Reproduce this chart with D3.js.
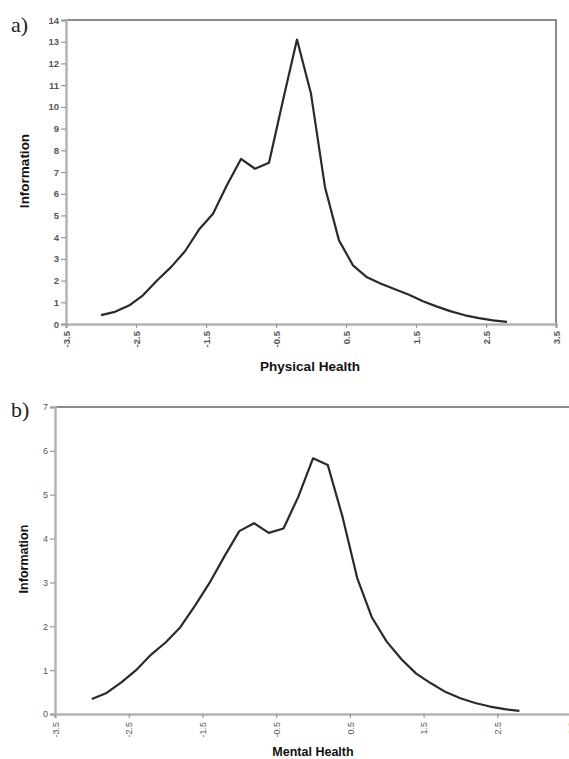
<!DOCTYPE html>
<html>
<head>
<meta charset="utf-8">
<script src="https://d3js.org/d3.v7.min.js"></script>
<style>
  body { margin: 0; background: #fff; }
  svg text { font-family: "Liberation Sans", Arial, sans-serif; }
</style>
</head>
<body>
<div id="chart"></div>
<script>
// a) physical health information curve
var thetaPhys = [-3.0, -2.8, -2.6, -2.4, -2.2, -2.0, -1.8, -1.6, -1.4, -1.2, -1.0, -0.8, -0.6, -0.4, -0.2,
                 0.0, 0.2, 0.4, 0.6, 0.8, 1.0, 1.2, 1.4, 1.6, 1.8, 2.0, 2.2, 2.4, 2.6, 2.8];
var infoPhys = [0.41, 0.56, 0.85, 1.32, 2.0, 2.62, 3.35, 4.35, 5.08, 6.4, 7.6, 7.15, 7.43, 10.3, 13.1,
                10.6, 6.3, 3.85, 2.7, 2.15, 1.85, 1.6, 1.35, 1.05, 0.8, 0.58, 0.4, 0.27, 0.17, 0.1];

// b) mental health information curve
var thetaMent = [-3.0, -2.8, -2.6, -2.4, -2.2, -2.0, -1.8, -1.6, -1.4, -1.2, -1.0, -0.8, -0.6, -0.4, -0.2,
                 0.0, 0.2, 0.4, 0.6, 0.8, 1.0, 1.2, 1.4, 1.6, 1.8, 2.0, 2.2, 2.4, 2.6, 2.8];
var infoMent = [0.34, 0.48, 0.72, 1.0, 1.35, 1.63, 1.98, 2.47, 3.0, 3.6, 4.17, 4.35, 4.13, 4.23, 4.95,
                5.83, 5.68, 4.5, 3.1, 2.2, 1.65, 1.25, 0.92, 0.7, 0.5, 0.36, 0.25, 0.17, 0.11, 0.07];

var xTicks = [-3.5, -2.5, -1.5, -0.5, 0.5, 1.5, 2.5, 3.5];
var yTicksPhys = [0, 1, 2, 3, 4, 5, 6, 7, 8, 9, 10, 11, 12, 13, 14];
var yTicksMent = [0, 1, 2, 3, 4, 5, 6, 7];

var svg = d3.select("#chart").append("svg")
    .attr("width", 569)
    .attr("height", 759);

function drawPanel(p) {
  var x = d3.scaleLinear().domain([-3.5, 3.5]).range([p.left, p.right]);
  var y = d3.scaleLinear().domain([0, p.ymax]).range([p.bottom, p.top]);
  var g = svg.append("g");

  // frame top and right
  g.append("line")
    .attr("x1", p.left).attr("x2", p.right + 1)
    .attr("y1", p.top).attr("y2", p.top)
    .style("stroke", "#8c8c8c").style("stroke-width", 2);
  g.append("line")
    .attr("x1", p.right).attr("x2", p.right)
    .attr("y1", p.top).attr("y2", p.bottom)
    .style("stroke", "#8c8c8c").style("stroke-width", 2);

  // y axis
  var ya = g.append("g")
    .attr("transform", "translate(" + p.left + ",0)")
    .call(d3.axisLeft(y).tickValues(p.yTicks).tickSize(5).tickPadding(2).tickFormat(d3.format("d")));
  ya.select(".domain").style("stroke", "#b4b4b4").style("stroke-width", 2.5);
  ya.selectAll(".tick line").style("stroke", "#999").style("stroke-width", 1.2);
  ya.selectAll(".tick text")
    .style("font-size", p.yFont + "px")
    .style("font-weight", p.yWeight)
    .style("fill", "#555");

  // x axis
  var xa = g.append("g")
    .attr("transform", "translate(0," + p.bottom + ")")
    .call(d3.axisBottom(x).tickValues(xTicks).tickSize(4).tickFormat(function(d) { return d.toFixed(1); }));
  xa.select(".domain").style("stroke", "#b4b4b4").style("stroke-width", 2.5);
  xa.selectAll(".tick line").style("stroke", "#999").style("stroke-width", 1.2);
  xa.selectAll(".tick text")
    .attr("transform", "rotate(-90)")
    .attr("x", -p.xLabGap)
    .attr("y", 0)
    .attr("dy", "0.35em")
    .style("text-anchor", "end")
    .style("font-size", p.yFont + "px")
    .style("font-weight", p.yWeight)
    .style("fill", "#555");

  // curve
  var pts = p.theta.map(function(t, i) { return [t, p.info[i]]; });
  g.append("path")
    .datum(pts)
    .attr("d", d3.line().x(function(d) { return x(d[0]); }).y(function(d) { return y(d[1]); }))
    .style("fill", "none")
    .style("stroke", "#2a2a2a")
    .style("stroke-width", 2.2)
    .style("stroke-linejoin", "round");

  // axis titles
  g.append("text")
    .attr("x", p.xTitleX).attr("y", p.xTitleY)
    .style("text-anchor", "middle")
    .style("font-size", p.titleFont + "px")
    .style("font-weight", "bold")
    .style("fill", "#111")
    .text(p.xTitle);
  g.append("text")
    .attr("transform", "translate(" + p.yTitleX + "," + p.yTitleY + ") rotate(-90)")
    .style("text-anchor", "middle")
    .style("font-size", p.titleFont + "px")
    .style("font-weight", "bold")
    .style("fill", "#111")
    .text("Information");

  // panel letter
  g.append("text")
    .attr("x", 11).attr("y", p.letterY)
    .style("font-family", "'Liberation Serif', 'Times New Roman', serif")
    .style("font-size", "22px")
    .style("fill", "#222")
    .text(p.letter);
}

drawPanel({
  left: 66, right: 556, top: 20, bottom: 324, ymax: 14,
  yTicks: yTicksPhys, theta: thetaPhys, info: infoPhys,
  yFont: 9.5, yWeight: "bold", xLabGap: 7,
  xTitle: "Physical Health", xTitleX: 310, xTitleY: 371,
  yTitleX: 29, yTitleY: 171, titleFont: 13.5,
  letter: "a)", letterY: 32
});

drawPanel({
  left: 55, right: 571, top: 407, bottom: 714, ymax: 7,
  yTicks: yTicksMent, theta: thetaMent, info: infoMent,
  yFont: 9, yWeight: "normal", xLabGap: 8,
  xTitle: "Mental Health", xTitleX: 313, xTitleY: 756,
  yTitleX: 28, yTitleY: 559, titleFont: 12.5,
  letter: "b)", letterY: 417
});
</script>
</body>
</html>
